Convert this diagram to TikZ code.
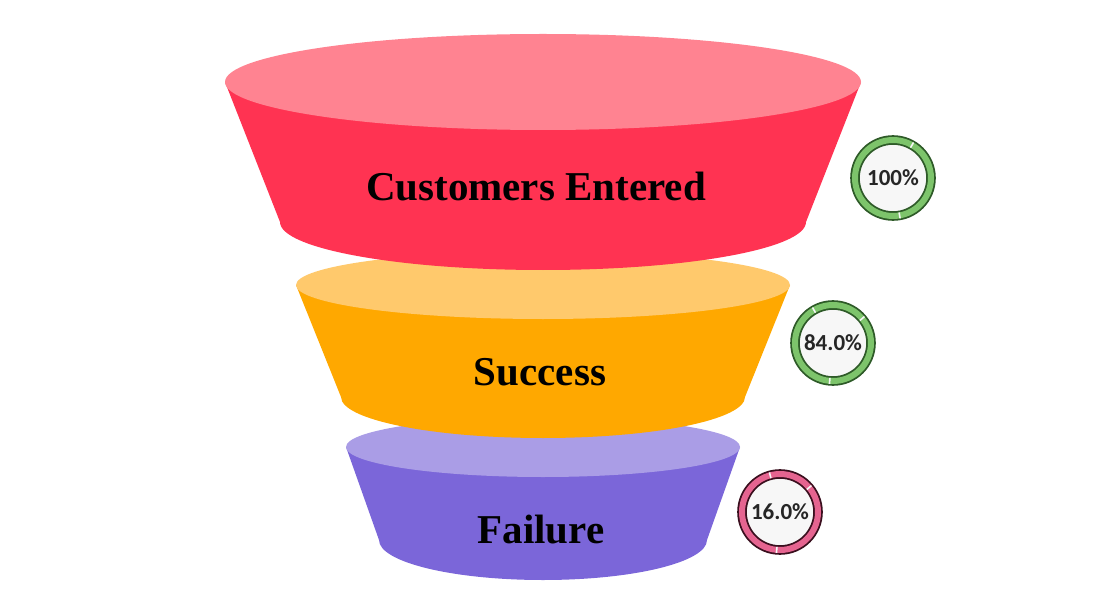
\documentclass[tikz,border=0pt]{standalone}
\usepackage{fontspec}
\setmainfont{Liberation Serif}
\newfontfamily\badgefont{Carlito}
\definecolor{redside}{HTML}{FF3352}
\definecolor{redtop}{HTML}{FF8391}
\definecolor{orangeside}{HTML}{FFA800}
\definecolor{orangetop}{HTML}{FFC96C}
\definecolor{purpleside}{HTML}{7B66D9}
\definecolor{purpletop}{HTML}{AA9DE6}
\definecolor{goodring}{HTML}{7DC46B}
\definecolor{goodline}{HTML}{2E5A28}
\definecolor{badring}{HTML}{E56490}
\definecolor{badline}{HTML}{3A0F1E}

\begin{document}
\begin{tikzpicture}[x=1pt,y=1pt,
            stage text/.style={font=\fontsize{41}{41}\selectfont\bfseries},
            badge/.style={circle,minimum size=76pt,fill=white!97!black,line width=1.8pt,double distance=6pt,
              font=\badgefont\fontsize{23}{23}\selectfont\bfseries,text=black!85},
            good badge/.style={badge,draw=goodline,double=goodring},
            bad badge/.style={badge,draw=badline,double=badring},
            gap/.style={draw=white!97!black,line width=1.6pt}]
            \useasboundingbox (0,0) rectangle (1110,614);
            \fill[purpleside] (346,167) -- (379,74) arc[start angle=180,end angle=360,x radius=164,y radius=40] -- (740,167) -- cycle;
            \fill[purpletop] (543,167) ellipse [x radius=197,y radius=30];
            \fill[orangeside] (296,329) -- (341,217) arc[start angle=180,end angle=360,x radius=202,y radius=41] -- (790,329) -- cycle;
            \fill[orangetop] (543,329) ellipse [x radius=247,y radius=34];
            \fill[redside] (225,532) -- (280,392) arc[start angle=180,end angle=360,x radius=263,y radius=48] -- (861,532) -- cycle;
            \fill[redtop] (543,532) ellipse [x radius=318,y radius=48];
            \node[stage text] (1) at (536,427) {Customers Entered};
            \node[stage text] (2) at (540,242) {Success};
            \node[stage text] (3) at (541,84) {Failure};
            \node[good badge] (4) at (893,436) {100\%};
            \node[good badge] (5) at (833,271) {84.0\%};
            \node[bad badge] (6) at (780,102) {16.0\%};
            \draw[gap]
            ([shift={(60:35pt)}]4.center) -- ([shift={(60:41pt)}]4.center)
            ([shift={(280:35pt)}]4.center) -- ([shift={(280:41pt)}]4.center)
            ([shift={(40:35pt)}]5.center) -- ([shift={(40:41pt)}]5.center)
            ([shift={(120:35pt)}]5.center) -- ([shift={(120:41pt)}]5.center)
            ([shift={(265:35pt)}]5.center) -- ([shift={(265:41pt)}]5.center)
            ([shift={(40:35pt)}]6.center) -- ([shift={(40:41pt)}]6.center)
            ([shift={(105:35pt)}]6.center) -- ([shift={(105:41pt)}]6.center)
            ([shift={(265:35pt)}]6.center) -- ([shift={(265:41pt)}]6.center);
        \end{tikzpicture}
\end{document}
